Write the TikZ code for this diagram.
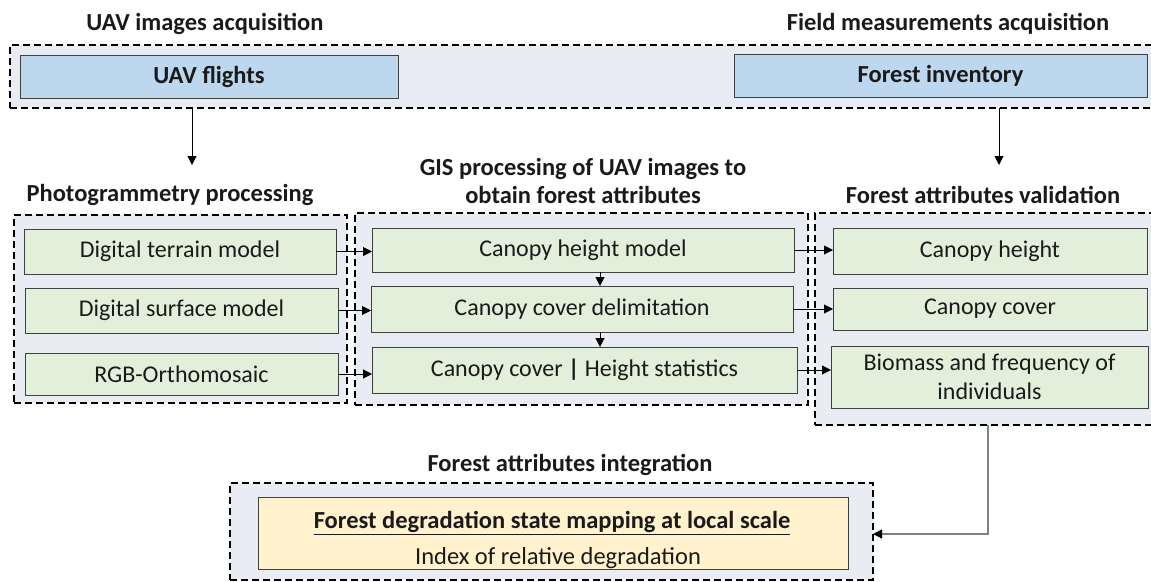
\documentclass[tikz,border=0pt]{standalone}
\usepackage{fontspec}
\setmainfont{Carlito}
\usetikzlibrary{arrows.meta}
\definecolor{contf}{HTML}{E9ECF2}
\definecolor{bluef}{HTML}{BDD7EE}
\definecolor{greenf}{HTML}{E2EFDA}
\definecolor{yellowf}{HTML}{FFF2CC}
\definecolor{boxline}{HTML}{404040}
\definecolor{txt}{HTML}{1A1A1A}
\begin{document}
\begin{tikzpicture}[x=1pt,y=-1pt,
  container/.style={draw=black, dash pattern=on 7pt off 4pt, line width=1.6pt, fill=contf, inner sep=0pt, outer sep=0pt},
  bluebox/.style={draw=boxline, fill=bluef, line width=1pt, inner sep=0pt, outer sep=0pt, text=txt, font=\fontsize{24.5}{29}\selectfont\bfseries},
  greenbox/.style={draw=boxline, fill=greenf, line width=1pt, inner sep=0pt, outer sep=0pt, text=txt, align=center, font=\fontsize{24}{29}\selectfont},
  yellowbox/.style={draw=boxline, fill=yellowf, line width=1pt, inner sep=0pt, outer sep=0pt},
  intext/.style={text=txt, align=center, inner sep=0pt, font=\fontsize{24.5}{29}\selectfont},
  title/.style={text=txt, align=center, font=\fontsize{24.5}{28}\selectfont\bfseries},
  arr/.style={-{Triangle[length=9pt,width=9pt]}, line width=1pt},
  garr/.style={-{Triangle[length=9pt,width=9pt,color=black]}, line width=1.2pt, draw=gray}
]
\useasboundingbox (0,0) rectangle (1151,581);
\clip (0,0) rectangle (1151,581);
\fill[white] (0,0) rectangle (1151,581);

% containers
\node[container, minimum width=1150pt, minimum height=63pt] (c1) at (585,76.5) {};
\node[container, minimum width=333pt, minimum height=188pt] (c2) at (180.5,309) {};
\node[container, minimum width=453pt, minimum height=192pt] (c3) at (581.5,309) {};
\node[container, minimum width=345pt, minimum height=212pt] (c4) at (987.5,319) {};
\node[container, minimum width=643pt, minimum height=97pt] (c5) at (551.5,531.5) {};

% titles
\node[title] (t1) at (205,24) {UAV images acquisition};
\node[title] (t2) at (948,24) {Field measurements acquisition};
\node[title] (t3) at (170,195) {Photogrammetry processing};
\node[title] (t4) at (583,181) {GIS processing of UAV images to\\obtain forest attributes};
\node[title] (t5) at (983,195) {Forest attributes validation};
\node[title] (t6) at (570,465) {Forest attributes integration};

% top boxes
\node[bluebox, minimum width=378pt, minimum height=43pt] (uav) at (209,76.5) {UAV flights};
\node[bluebox, minimum width=413pt, minimum height=43pt] (inv) at (940.5,75.5) {Forest inventory};

% photogrammetry
\node[greenbox, minimum width=312pt, minimum height=45pt] (dtm) at (180,251.5) {Digital terrain model};
\node[greenbox, minimum width=313pt, minimum height=45pt] (dsm) at (181.5,310.5) {Digital surface model};
\node[greenbox, minimum width=313pt, minimum height=42pt] (rgb) at (181.5,374) {RGB-Orthomosaic};

% GIS
\node[greenbox, minimum width=422pt, minimum height=44pt] (chm) at (583,250) {Canopy height model};
\node[greenbox, minimum width=422pt, minimum height=46pt] (ccd) at (582,309) {Canopy cover delimitation};
\node[greenbox, minimum width=425pt, minimum height=46pt] (cchs) at (584.5,370) {Canopy cover \textbf{|} Height statistics};

% validation
\node[greenbox, minimum width=314pt, minimum height=46pt] (ch) at (990,251) {Canopy height};
\node[greenbox, minimum width=314pt, minimum height=42pt] (cc) at (990,309) {Canopy cover};
\node[greenbox, minimum width=317pt, minimum height=62pt] (bio) at (989.5,377) {Biomass and frequency of\\individuals};

% integration
\node[yellowbox, minimum width=590pt, minimum height=72pt] (deg) at (553,533) {};
\node[intext] (deg1) at (552,523) {\textbf{\underline{Forest degradation state mapping at local scale}}};
\node[intext] (deg2) at (558,558) {Index of relative degradation};

% connectors
\coordinate (a1) at (192,165);
\coordinate (a2) at (999,165);
\draw[arr] (a1 |- c1.south) -- (a1);
\draw[arr] (a2 |- c1.south) -- (a2);

\draw[arr] (dtm.east) -- (dtm.east -| chm.west);
\draw[arr] (dsm.east) -- (dsm.east -| ccd.west);
\draw[arr] (rgb.east) -- (rgb.east -| cchs.west);

\draw[arr] (chm.east) -- (chm.east -| ch.west);
\draw[arr] (ccd.east) -- (ccd.east -| cc.west);
\draw[arr] (cchs.east) -- (cchs.east -| bio.west);

\coordinate (d1) at (600,0);
\draw[arr] (d1 |- chm.south) -- (d1 |- ccd.north);
\draw[arr] (d1 |- ccd.south) -- (d1 |- cchs.north);

\coordinate (turn) at (988,534);
\draw[garr] (turn |- c4.south) -- (turn) -- (turn -| c5.east);
\end{tikzpicture}
\end{document}
